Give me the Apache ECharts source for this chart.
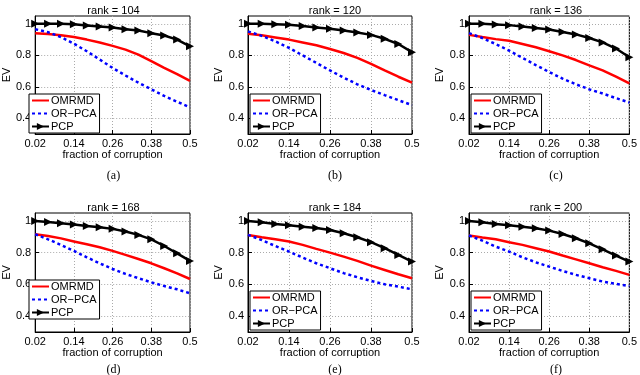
<!DOCTYPE html>
<html>
<head>
<meta charset="utf-8">
<script src="https://cdn.jsdelivr.net/npm/echarts@6/dist/echarts.min.js"></script>
<style>
  html, body { margin: 0; padding: 0; background: #fff; }
  #chart { width: 640px; height: 375px; }
</style>
</head>
<body>
<div id="chart"></div>
<script>
// fraction of corruption, 13 steps of 0.04
const fractions = ['0.02', '0.06', '0.1', '0.14', '0.18', '0.22', '0.26', '0.3', '0.34', '0.38', '0.42', '0.46', '0.5'];
const yTicks = [0.4, 0.6, 0.8, 1];
const ranks = [104, 120, 136, 168, 184, 200];
const panelLabels = ['(a)', '(b)', '(c)', '(d)', '(e)', '(f)'];

// EV values
const omrmd104 = [0.941, 0.935, 0.927, 0.916, 0.900, 0.882, 0.860, 0.836, 0.805, 0.763, 0.720, 0.680, 0.637];
const orpca104 = [0.966, 0.947, 0.916, 0.874, 0.826, 0.773, 0.720, 0.672, 0.626, 0.584, 0.542, 0.505, 0.469];
const pcp104 = [1.000, 1.000, 1.000, 0.998, 0.990, 0.983, 0.977, 0.966, 0.958, 0.941, 0.926, 0.900, 0.857];

const omrmd120 = [0.937, 0.927, 0.914, 0.900, 0.882, 0.864, 0.840, 0.815, 0.784, 0.746, 0.704, 0.664, 0.626];
const orpca120 = [0.952, 0.924, 0.889, 0.847, 0.800, 0.752, 0.704, 0.658, 0.616, 0.580, 0.547, 0.515, 0.484];
const pcp120 = [1.000, 1.000, 0.998, 0.994, 0.987, 0.977, 0.969, 0.958, 0.945, 0.930, 0.905, 0.872, 0.820];

const omrmd136 = [0.930, 0.916, 0.903, 0.893, 0.872, 0.851, 0.826, 0.800, 0.770, 0.736, 0.704, 0.664, 0.622];
const orpca136 = [0.941, 0.910, 0.872, 0.830, 0.784, 0.738, 0.694, 0.652, 0.616, 0.584, 0.557, 0.528, 0.500];
const pcp136 = [1.000, 1.000, 0.996, 0.992, 0.983, 0.973, 0.964, 0.948, 0.933, 0.910, 0.882, 0.843, 0.788];

const omrmd168 = [0.916, 0.905, 0.890, 0.870, 0.853, 0.834, 0.811, 0.786, 0.760, 0.733, 0.702, 0.670, 0.634];
const orpca168 = [0.916, 0.884, 0.849, 0.811, 0.771, 0.733, 0.697, 0.666, 0.639, 0.613, 0.590, 0.569, 0.544];
const pcp168 = [1.000, 0.994, 0.985, 0.977, 0.968, 0.960, 0.950, 0.933, 0.912, 0.884, 0.842, 0.796, 0.748];

const omrmd184 = [0.912, 0.897, 0.884, 0.870, 0.849, 0.824, 0.800, 0.775, 0.748, 0.718, 0.691, 0.664, 0.639];
const orpca184 = [0.912, 0.880, 0.842, 0.807, 0.769, 0.733, 0.702, 0.671, 0.645, 0.622, 0.601, 0.586, 0.569];
const pcp184 = [1.000, 0.992, 0.981, 0.973, 0.964, 0.956, 0.943, 0.922, 0.897, 0.866, 0.828, 0.786, 0.744];

const omrmd200 = [0.908, 0.895, 0.884, 0.866, 0.849, 0.828, 0.807, 0.782, 0.758, 0.733, 0.708, 0.685, 0.660];
const orpca200 = [0.908, 0.876, 0.838, 0.807, 0.771, 0.739, 0.712, 0.685, 0.660, 0.639, 0.618, 0.603, 0.590];
const pcp200 = [1.000, 0.992, 0.981, 0.973, 0.964, 0.954, 0.939, 0.918, 0.891, 0.859, 0.821, 0.782, 0.744];

const omrmd = [omrmd104, omrmd120, omrmd136, omrmd168, omrmd184, omrmd200];
const orpca = [orpca104, orpca120, orpca136, orpca168, orpca184, orpca200];
const pcp = [pcp104, pcp120, pcp136, pcp168, pcp184, pcp200];

// layout of the 2x3 panels (pixels)
const colLeft = [27, 248, 469];
const colWidth = [163, 164, 164];
const rowTop = [16, 213];
const rowHeight = [118, 119];
const legendTop = [[94, 94, 94], [280, 291, 291]];

const FONT = '"Liberation Sans", Arial, sans-serif';

const grids = [], xAxes = [], yAxes = [], series = [], titles = [], legends = [];

ranks.forEach((rank, i) => {
  const r = Math.floor(i / 3), c = i % 3;
  const left = colLeft[c], top = rowTop[r], w = colWidth[c], h = rowHeight[r];
  grids.push({ left, top, width: w, height: h, show: true, borderColor: '#000', borderWidth: 1, backgroundColor: '#fff' });
  xAxes.push({
    type: 'category', gridIndex: i, data: fractions, boundaryGap: false,
    name: 'fraction of corruption', nameLocation: 'middle', nameGap: 14,
    nameTextStyle: { fontFamily: FONT, fontSize: 11, color: '#000' },
    axisLine: { lineStyle: { color: '#000' } },
    axisTick: { inside: true, length: 4, interval: 2, lineStyle: { color: '#000' } },
    axisLabel: { interval: 2, margin: 4, fontFamily: FONT, fontSize: 11, color: '#000' },
    splitLine: { show: true, interval: 2, lineStyle: { type: [1, 2], color: '#aaa' } },
  });
  yAxes.push({
    type: 'value', gridIndex: i, min: 0.3, max: 1.05,
    name: 'EV', nameLocation: 'middle', nameGap: 17, nameRotate: 90,
    nameTextStyle: { fontFamily: FONT, fontSize: 11, color: '#000' },
    axisLine: { show: true, lineStyle: { color: '#000' } },
    axisTick: { show: true, inside: true, length: 4, customValues: yTicks, lineStyle: { color: '#000' } },
    axisLabel: { customValues: yTicks, margin: 4, fontFamily: FONT, fontSize: 11, color: '#000',
      formatter: (v) => (Math.abs(v - 1) < 1e-6 ? '1' : v.toFixed(1)) },
    splitLine: { show: true, lineStyle: { type: [1, 2], color: '#aaa' } },
  });
  titles.push({ text: 'rank = ' + rank, left: left + w / 2, top: top - 16, textAlign: 'center',
    textStyle: { fontFamily: FONT, fontSize: 11, fontWeight: 'normal', color: '#000' } });
  titles.push({ text: panelLabels[i], left: left + w / 2, top: r === 0 ? 165 : 359, textAlign: 'center',
    textStyle: { fontFamily: '"Liberation Serif", "Times New Roman", serif', fontSize: 12, fontWeight: 'normal', color: '#000' } });
  legends.push({
    left: left + 2, top: legendTop[r][c], orient: 'vertical',
    backgroundColor: '#fff', borderColor: '#000', borderWidth: 1, borderRadius: 0,
    padding: [1, 3, 1, 2], itemGap: 2, itemWidth: 17, itemHeight: 9,
    textStyle: { fontFamily: FONT, fontSize: 11, color: '#000', padding: [0, 0, 0, -3] },
    data: [
      { name: 'OMRMD', itemStyle: { opacity: 0 } },
      { name: 'OR\u2212PCA', itemStyle: { opacity: 0 } },
      'PCP',
    ],
  });

  series.push({ name: 'OMRMD', type: 'line', xAxisIndex: i, yAxisIndex: i, data: omrmd[i],
    showSymbol: false, symbol: 'none', lineStyle: { color: '#ff0000', width: 2.5 }, itemStyle: { color: '#ff0000' } });
  series.push({ name: 'OR\u2212PCA', type: 'line', xAxisIndex: i, yAxisIndex: i, data: orpca[i],
    showSymbol: false, symbol: 'none', lineStyle: { color: '#0000ff', width: 2.5, type: [3, 3] }, itemStyle: { color: '#0000ff' } });
  series.push({ name: 'PCP', type: 'line', xAxisIndex: i, yAxisIndex: i, data: pcp[i],
    symbol: 'triangle', symbolSize: 8, symbolRotate: -90, showAllSymbol: true,
    lineStyle: { color: '#000', width: 2.5 }, itemStyle: { color: '#000' }, z: 3 });
});

const chart = echarts.init(document.getElementById('chart'), null, { renderer: 'canvas' });
chart.setOption({
  animation: false,
  backgroundColor: '#fff',
  title: titles,
  legend: legends,
  grid: grids,
  xAxis: xAxes,
  yAxis: yAxes,
  series,
});
</script>
</body>
</html>
